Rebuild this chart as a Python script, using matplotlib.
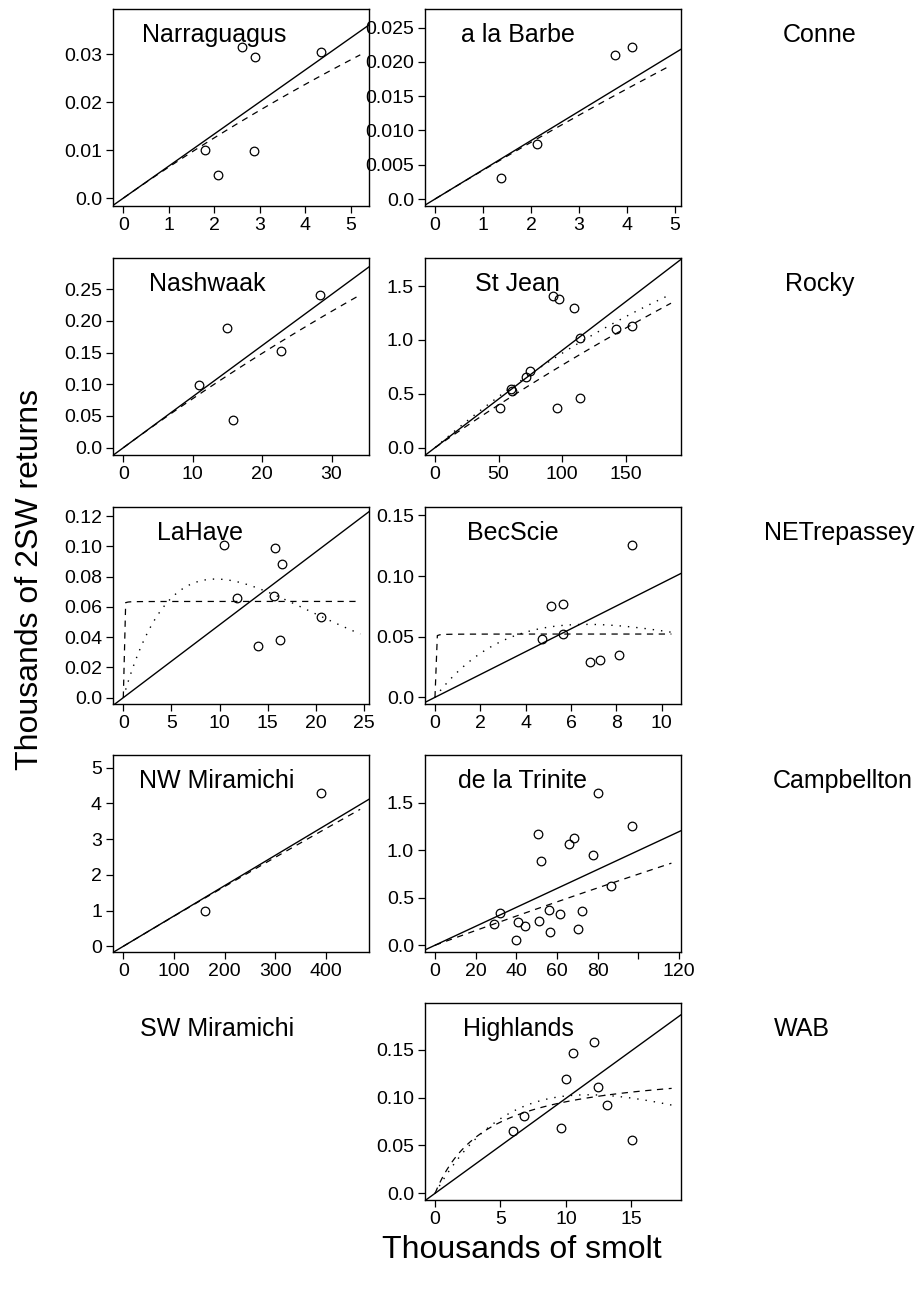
import numpy as np
import matplotlib.pyplot as plt

plt.rcParams['font.family'] = ['Liberation Sans', 'DejaVu Sans']
plt.rcParams['lines.scale_dashes'] = False

# smolt (thousands) and 2SW returns (thousands) per river
narraguagus_smolt = [2.61, 2.89, 4.34, 1.80, 2.86, 2.09]
narraguagus_returns = [0.0315, 0.0294, 0.0304, 0.0101, 0.0097, 0.0048]

barbe_smolt = [1.38, 2.13, 3.75, 4.10]
barbe_returns = [0.0030, 0.0080, 0.0210, 0.0221]

nashwaak_smolt = [14.9, 28.4, 10.9, 22.7, 15.8]
nashwaak_returns = [0.189, 0.240, 0.099, 0.152, 0.044]

stjean_smolt = [92.6, 97.8, 109.6, 113.8, 142.4, 154.7, 74.5, 71.6, 60.3, 60.0, 50.9, 96.0, 114.1]
stjean_returns = [1.41, 1.38, 1.30, 1.02, 1.10, 1.13, 0.71, 0.66, 0.53, 0.54, 0.37, 0.37, 0.46]

lahave_smolt = [10.4, 15.7, 16.5, 11.8, 15.6, 20.5, 14.0, 16.3]
lahave_returns = [0.101, 0.099, 0.088, 0.066, 0.067, 0.053, 0.034, 0.038]

becscie_smolt = [8.69, 5.12, 5.65, 4.71, 5.63, 6.85, 7.29, 8.12]
becscie_returns = [0.126, 0.075, 0.077, 0.048, 0.052, 0.029, 0.031, 0.035]

nwmiramichi_smolt = [390, 162]
nwmiramichi_returns = [4.30, 0.985]

trinite_smolt = [80.2, 96.9, 50.5, 68.5, 66.1, 77.9, 52.0, 86.4, 32.0, 29.0,
                 41.0, 44.4, 51.2, 56.1, 61.3, 72.1, 56.7, 70.5, 39.8]
trinite_returns = [1.60, 1.25, 1.17, 1.13, 1.06, 0.95, 0.89, 0.62, 0.34, 0.22,
                   0.24, 0.20, 0.25, 0.37, 0.33, 0.36, 0.14, 0.17, 0.05]

highlands_smolt = [12.17, 10.53, 10.02, 12.42, 13.14, 6.76, 5.92, 9.64, 15.07]
highlands_returns = [0.158, 0.147, 0.120, 0.111, 0.092, 0.081, 0.065, 0.068, 0.056]

# fitted models: proportional slope, Beverton-Holt (a, b), Ricker (a, b)
prop_slope = [0.00668, 0.00426, 0.00805, 0.00903, 0.00482, 0.00942, 0.00847, 0.00995, 0.00993]
bh_a = [0.00668, 0.00426, 0.00805, 0.00824, 20.0, 20.0, 0.00847, 0.0078, 0.0335]
bh_b = [0.0318, 0.0152, 0.00413, 0.00076, 314.5, 383.0, 0.0000747, 0.00044, 0.25]
ricker_a = [None, None, None, 0.01024, 0.0222, 0.02442, None, None, 0.02393]
ricker_b = [None, None, None, 0.00156, 0.1042, 0.1493, None, None, 0.08547]

rivers = ['Narraguagus', 'a la Barbe', 'Nashwaak', 'St Jean', 'LaHave',
          'BecScie', 'NW Miramichi', 'de la Trinite', 'Highlands']
smolt = [narraguagus_smolt, barbe_smolt, nashwaak_smolt, stjean_smolt, lahave_smolt,
         becscie_smolt, nwmiramichi_smolt, trinite_smolt, highlands_smolt]
returns = [narraguagus_returns, barbe_returns, nashwaak_returns, stjean_returns,
           lahave_returns, becscie_returns, nwmiramichi_returns, trinite_returns,
           highlands_returns]

# rivers with no data panel
empty_rivers = ['Conne', 'Rocky', 'NETrepassey', 'Campbellton', 'SW Miramichi', 'WAB']

xticks = [[0, 1, 2, 3, 4, 5], [0, 1, 2, 3, 4, 5], [0, 10, 20, 30], [0, 50, 100, 150],
          [0, 5, 10, 15, 20, 25], [0, 2, 4, 6, 8, 10], [0, 100, 200, 300, 400],
          [0, 20, 40, 60, 80, 100, 120], [0, 5, 10, 15]]
xticklabels = [None, None, None, None, None, None, None,
               ['0', '20', '40', '60', '80', '', '120'], None]
yticks = [[0, 0.01, 0.02, 0.03], [0, 0.005, 0.010, 0.015, 0.020, 0.025],
          [0, 0.05, 0.10, 0.15, 0.20, 0.25], [0, 0.5, 1.0, 1.5],
          [0, 0.02, 0.04, 0.06, 0.08, 0.10, 0.12], [0, 0.05, 0.10, 0.15],
          [0, 1, 2, 3, 4, 5], [0, 0.5, 1.0, 1.5], [0, 0.05, 0.10, 0.15]]
yticklabels = [['0.0', '0.01', '0.02', '0.03'],
               ['0.0', '0.005', '0.010', '0.015', '0.020', '0.025'],
               ['0.0', '0.05', '0.10', '0.15', '0.20', '0.25'],
               ['0.0', '0.5', '1.0', '1.5'],
               ['0.0', '0.02', '0.04', '0.06', '0.08', '0.10', '0.12'],
               ['0.0', '0.05', '0.10', '0.15'],
               ['0', '1', '2', '3', '4', '5'],
               ['0.0', '0.5', '1.0', '1.5'],
               ['0.0', '0.05', '0.10', '0.15']]

# ---- layout (pixels on a 919 x 1297 canvas) ----
W, H = 919, 1297
fig = plt.figure(figsize=(W / 100, H / 100), dpi=100)

col_left = [113, 425]
col_width = 256
row_top = [9, 258, 507, 755, 1003]
row_height = 197
panel_cell = [(0, 0), (0, 1), (1, 0), (1, 1), (2, 0), (2, 1), (3, 0), (3, 1), (4, 1)]
xlims = [(-0.23, 5.4), (-0.21, 5.125), (-1.49, 35.4), (-7.9, 193.5), (-1.07, 25.5),
         (-0.44, 10.85), (-20.4, 485.5), (-4.9, 121.0), (-0.77, 18.8)]
ylims = [(-0.00166, 0.0394), (-0.00102, 0.0277), (-0.0115, 0.299), (-0.068, 1.76),
         (-0.0042, 0.126), (-0.0055, 0.157), (-0.16, 5.35), (-0.071, 2.0),
         (-0.007, 0.199)]
title_x = [214, 518, 207, 517, 200, 513, 217, 523, 518]

def fx(px):
    return px / W

def fy(py):
    return 1 - py / H

for i, river in enumerate(rivers):
    r, c = panel_cell[i]
    ax = fig.add_axes([fx(col_left[c]), fy(row_top[r] + row_height),
                       col_width / W, row_height / H])
    x = np.array(smolt[i])
    y = np.array(returns[i])
    ax.plot(x, y, 'o', mfc='none', mec='black', ms=6.2, mew=0.9)

    # proportional model spans the whole panel
    ax.axline((0, 0), slope=prop_slope[i], color='black', lw=1.0)

    s = np.linspace(0, 1.2 * x.max(), 101)
    bh = bh_a[i] * s / (1 + bh_b[i] * s)
    ax.plot(s, bh, color='black', lw=0.9, linestyle=(0, (4.5, 4)))
    if ricker_a[i] is not None:
        rk = ricker_a[i] * s * np.exp(-ricker_b[i] * s)
        ax.plot(s, rk, color='black', lw=1.0, linestyle=(0, (1, 5)))

    ax.set_xlim(*xlims[i])
    ax.set_ylim(*ylims[i])
    ax.set_xticks(xticks[i])
    if xticklabels[i] is not None:
        ax.set_xticklabels(xticklabels[i])
    ax.set_yticks(yticks[i])
    ax.set_yticklabels(yticklabels[i])
    ax.tick_params(direction='out', length=5, width=0.9, labelsize=14,
                   color='black', labelcolor='black')
    ax.tick_params(axis='x', pad=3)
    ax.tick_params(axis='y', pad=3)
    for sp in ax.spines.values():
        sp.set_linewidth(1.0)

    fig.text(fx(title_x[i]), fy(row_top[r] + 33), river, ha='center',
             va='baseline', fontsize=18)

# names of rivers without a panel
empty_x = [820, 820, 839, 843, 217, 802]
empty_row = [0, 1, 2, 3, 4, 4]
for name, px, r in zip(empty_rivers, empty_x, empty_row):
    fig.text(fx(px), fy(row_top[r] + 33), name, ha='center', va='baseline',
             fontsize=18)

fig.text(fx(522), fy(1250), 'Thousands of smolt', ha='center', va='center',
         fontsize=23)
fig.text(fx(30), fy(580), 'Thousands of 2SW returns', ha='center', va='center',
         rotation=90, fontsize=23)

fig.savefig('out.png', dpi=100)
